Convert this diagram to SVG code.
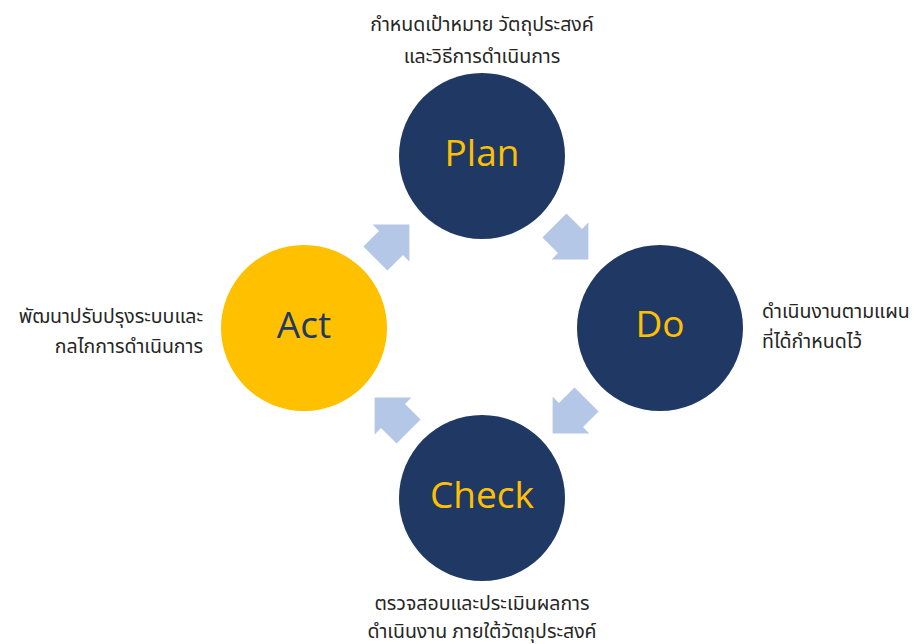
<svg xmlns="http://www.w3.org/2000/svg" width="914" height="644" viewBox="0 0 914 644">
  <style>
    .navy { fill: #1F3864; }
    .gold { fill: #FFC000; }
    .title { font-family: "Open Sans", "Liberation Sans", sans-serif; font-size: 37px; text-anchor: middle; }
    .note { font-family: "Noto Sans Thai", "Leelawadee UI", Tahoma, "DejaVu Sans", sans-serif; font-size: 19.5px; fill: #262626; }
    .arrow { fill: #B4C7E7; }
  </style>
  <defs>
    <!-- block arrow pointing +x, origin at the base of the head -->
    <path id="blockArrow" d="M-22,-17 H0 V-26 L26,0 L0,26 V17 H-22 Z"/>
  </defs>

  <rect width="914" height="644" fill="#FFFFFF"/>

  <g id="connectors">
    <use href="#blockArrow" class="arrow" transform="translate(391,243) rotate(-45)"/>
    <use href="#blockArrow" class="arrow" transform="translate(570,241) rotate(45)"/>
    <use href="#blockArrow" class="arrow" transform="translate(571,415) rotate(135)"/>
    <use href="#blockArrow" class="arrow" transform="translate(393,416) rotate(225)"/>
  </g>

  <g id="plan">
    <circle cx="482" cy="156" r="83" class="navy"/>
    <text x="482" y="166" class="title gold">Plan</text>
  </g>

  <g id="do">
    <circle cx="660" cy="328" r="83" class="navy"/>
    <text x="660" y="337" class="title gold">Do</text>
  </g>

  <g id="check">
    <circle cx="482" cy="498" r="83" class="navy"/>
    <text x="482" y="508" class="title gold">Check</text>
  </g>

  <g id="act">
    <circle cx="304" cy="328" r="83" class="gold"/>
    <text x="304" y="338" class="title navy">Act</text>
  </g>

  <g id="plan-note">
    <text class="note" text-anchor="middle" x="482" y="31">กำหนดเป้าหมาย วัตถุประสงค์</text>
    <text class="note" text-anchor="middle" x="482" y="63">และวิธีการดำเนินการ</text>
  </g>

  <g id="do-note">
    <text class="note" x="762" y="318">ดำเนินงานตามแผน</text>
    <text class="note" x="762" y="348">ที่ได้กำหนดไว้</text>
  </g>

  <g id="check-note">
    <text class="note" text-anchor="middle" x="482" y="610">ตรวจสอบและประเมินผลการ</text>
    <text class="note" text-anchor="middle" x="482" y="638">ดำเนินงาน ภายใต้วัตถุประสงค์</text>
  </g>

  <g id="act-note">
    <text class="note" text-anchor="end" x="203" y="323">พัฒนาปรับปรุงระบบและ</text>
    <text class="note" text-anchor="end" x="203" y="353">กลไกการดำเนินการ</text>
  </g>
</svg>
